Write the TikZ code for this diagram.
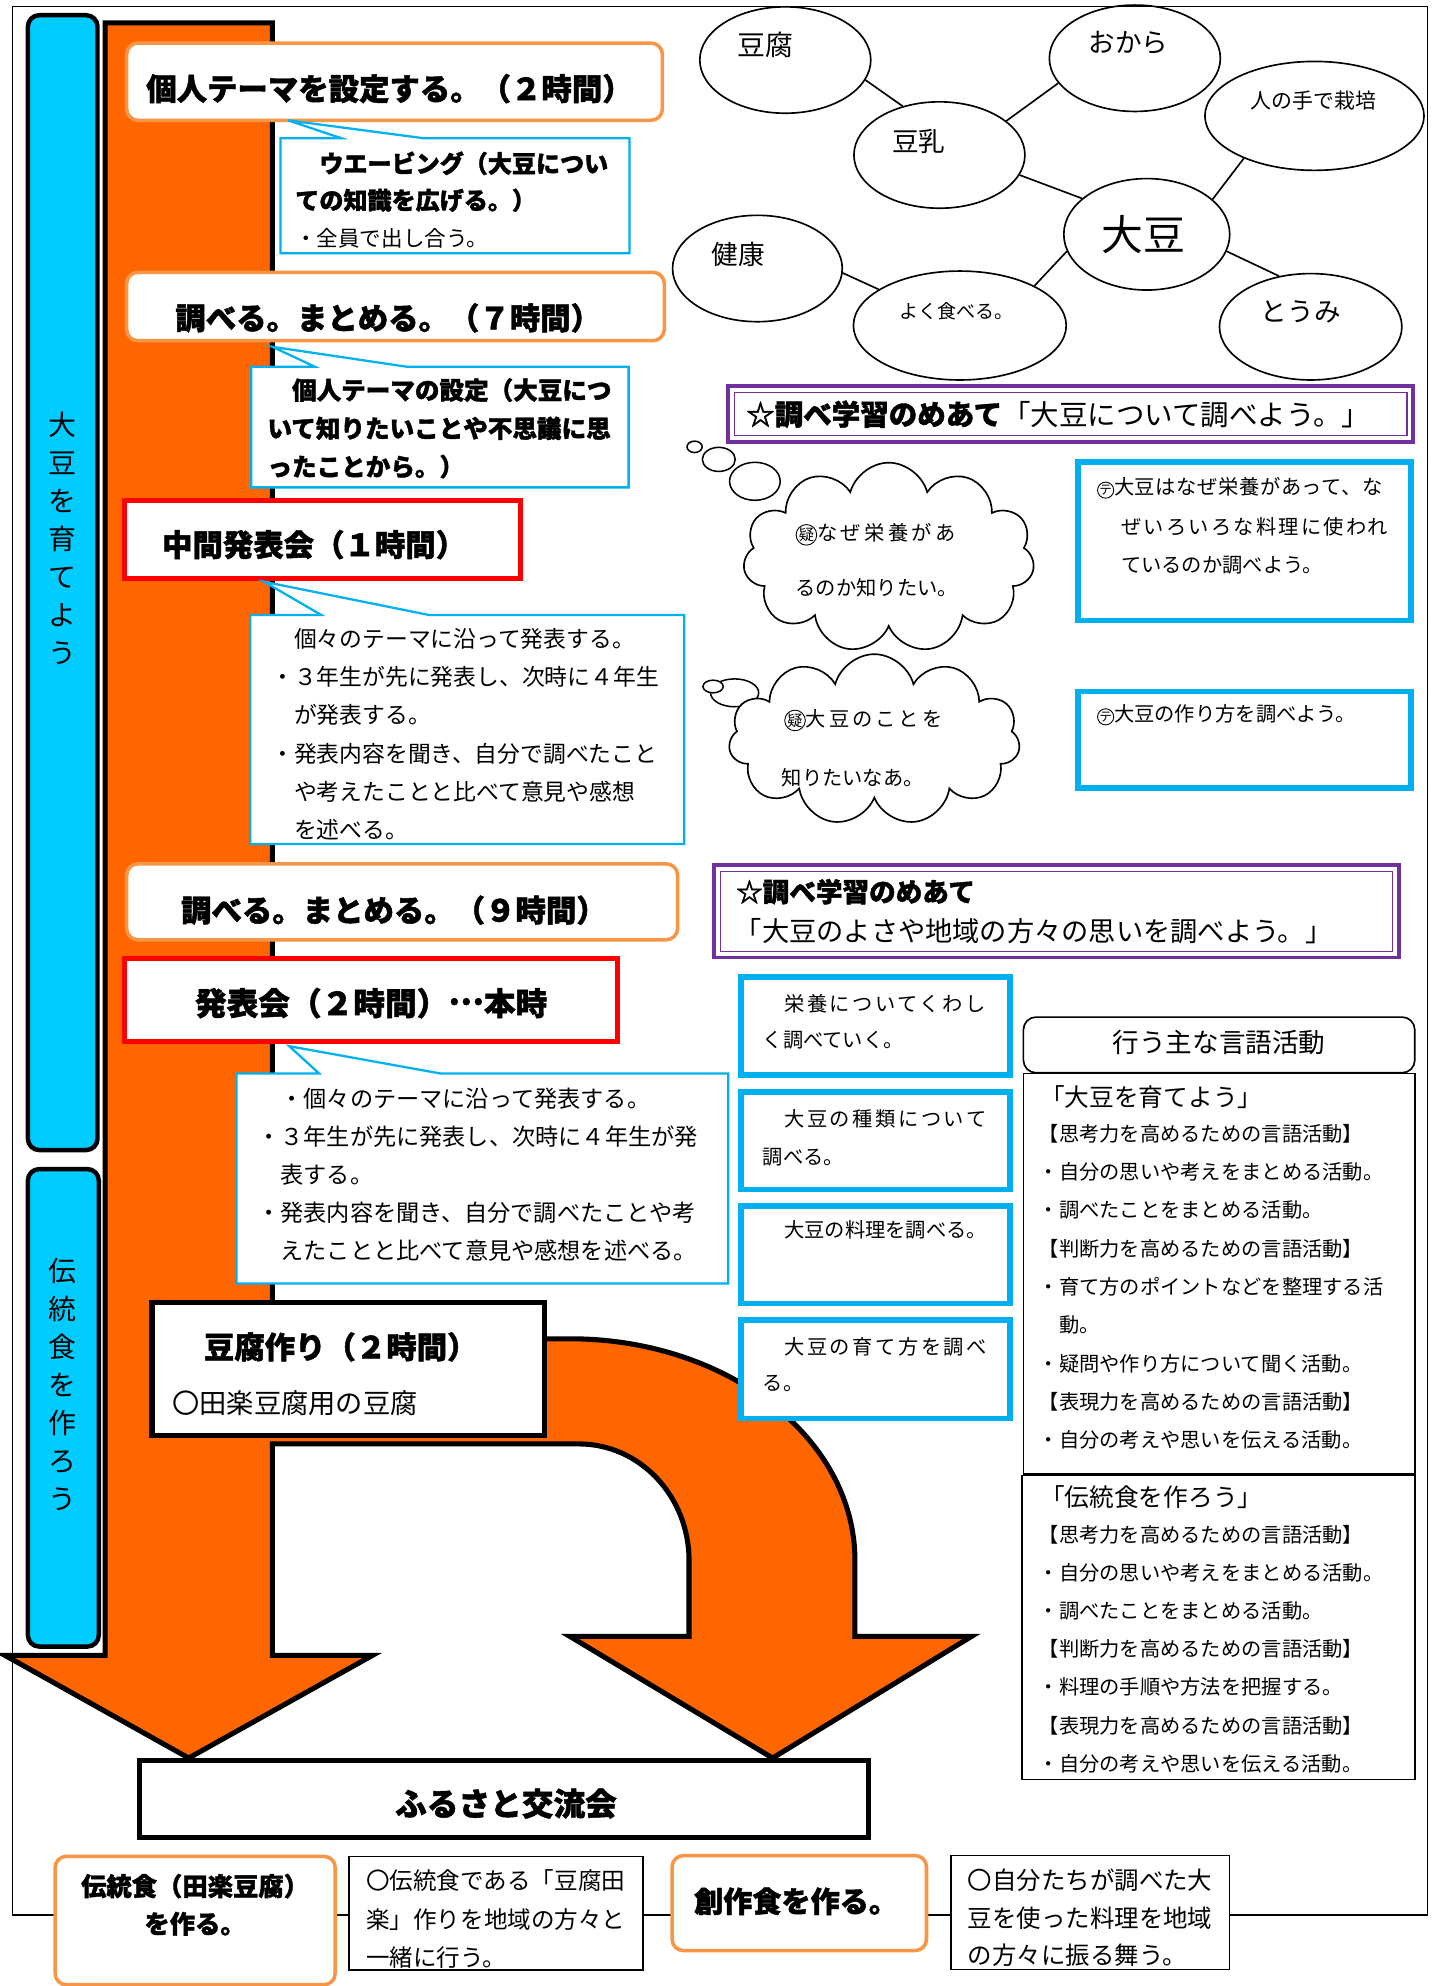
\documentclass[tikz,border=0pt]{standalone}
\usepackage{fontspec}
\setmainfont{Noto Sans CJK JP}
\usetikzlibrary{shapes.geometric,shapes.symbols}
\definecolor{arroworange}{HTML}{FF6600}
\definecolor{barcyan}{HTML}{00CCFF}
\definecolor{callblue}{HTML}{00B0F0}
\definecolor{boxorange}{HTML}{F79646}
\definecolor{redline}{HTML}{FF0000}
\definecolor{purpleline}{HTML}{7030A0}
\newcommand\fs[2]{\fontsize{#1}{#2}\selectfont}
\newcommand\heavy{\bfseries\addfontfeature{FakeBold=1.5}}
\newcommand\encl[2]{\tikz[baseline=(enc.base)]\node[draw,circle,line width=0.7pt,inner sep=0pt,font=\fs{#2}{#2}](enc){#1};}
\tikzset{
  frameline/.style={line width=1.2pt},
  bar/.style={draw=black,fill=barcyan,line width=3.5pt,rounded corners=9pt},
  bigarrow/.style={draw=black,fill=arroworange,line width=4pt,line join=miter},
  obox/.style={draw=boxorange,fill=white,line width=2.8pt,rounded corners=9pt},
  rbox/.style={draw=redline,fill=white,line width=4pt},
  callout/.style={draw=callblue,fill=white,line width=1.8pt,line join=miter},
  kbox/.style={draw=black,fill=white,line width=4pt},
  bbox/.style={draw=callblue,fill=white,line width=4.5pt},
  pboxo/.style={draw=purpleline,line width=3pt},
  pboxi/.style={draw=purpleline,line width=1pt},
  ell/.style={draw,ellipse,line width=1.3pt,inner sep=0pt},
  web/.style={line width=1.3pt},
  thought/.style={draw,cloud,cloud puffs=11,line width=1.3pt,fill=white,inner sep=0pt},
  bubble/.style={draw,ellipse,line width=1.2pt,fill=white,inner sep=0pt},
  tbox/.style={draw=black,fill=white,line width=1.3pt},
  head/.style={inner sep=0pt,font=\heavy\fs{24}{28}},
  txt/.style={inner sep=0pt,anchor=west,align=left},
  vtext/.style={inner sep=0pt,align=center,font=\fs{22}{30}}
}
\begin{document}
\begin{tikzpicture}[x=1pt,y=-1pt]
\useasboundingbox (0,0) rectangle (1134,1568);
\draw[frameline] (10,5) rectangle (1127,1512);

% side bars
\draw[bar] (22,12) rectangle (77,908);
\draw[bar] (22,923) rectangle (78,1300);
\node[vtext] (barA) at (49.5,425) {大\\豆\\を\\育\\て\\よ\\う};
\node[vtext] (barB) at (49.5,1093) {伝\\統\\食\\を\\作\\ろ\\う};

% big orange arrow with curved branch
\draw[bigarrow] (83,18) -- (215,18) -- (215,1057) -- (450,1057)
  arc[start angle=-90,end angle=0,x radius=225,y radius=175]
  -- (675,1292) -- (767,1292) -- (610,1388) -- (450,1292) -- (544,1292) -- (544,1232)
  arc[start angle=0,end angle=-90,x radius=87,y radius=92]
  -- (215,1140) -- (215,1307) -- (294,1307) -- (149,1388) -- (4,1307) -- (83,1307) -- cycle;

% step 1
\draw[obox] (100,34) rectangle (523,95);
\node[head] (h1) at (307.5,70) {個人テーマを設定する。（２時間）};
\draw[callout] (221.4,109.2) -- (269.7,109.2) -- (227.4,95) -- (334.9,109.2) -- (497,109.2) -- (497,200) -- (221.4,200) -- cycle;
\node[txt,font=\heavy\fs{19}{29}] (c1a) at (233,143.5) {　ウエービング（大豆につい\\ての知識を広げる。）};
\node[txt,font=\fs{17}{20}] (c1b) at (233,188) {・全員で出し合う。};

% step 2
\draw[obox] (100,215) rectangle (524.5,269);
\node[head] (h2) at (306.5,251) {調べる。まとめる。（７時間）};
\draw[callout] (198.4,289.5) -- (248.5,289.5) -- (215,273.8) -- (320.8,289.5) -- (496.3,289.5) -- (496.3,384.8) -- (198.4,384.8) -- cycle;
\node[txt,font=\heavy\fs{19.4}{30.2}] (c2) at (211,338.2) {　個人テーマの設定（大豆につ\\いて知りたいことや不思議に思\\ったことから。）};

% step 3
\draw[rbox] (98,395) rectangle (411,457);
\node[head] (h3) at (248,430) {中間発表会（１時間）};
\draw[callout] (197.6,485.6) -- (253.8,485.6) -- (208.5,459.3) -- (339,485.6) -- (540.3,485.6) -- (540.3,666.4) -- (197.6,666.4) -- cycle;
\node[txt,font=\fs{18}{30.3}] (c3) at (214,579.7) {　個々のテーマに沿って発表する。\\・３年生が先に発表し、次時に４年生\\　が発表する。\\・発表内容を聞き、自分で調べたこと\\　や考えたことと比べて意見や感想\\　を述べる。};

% step 4
\draw[obox] (100,682) rectangle (535,742);
\node[head] (h4) at (311,718.6) {調べる。まとめる。（９時間）};

% step 5
\draw[rbox] (98,757) rectangle (487.7,822.6);
\node[head,font=\heavy\fs{25}{28}] (h5) at (293,792) {発表会（２時間）\raisebox{0.33em}{…}本時};
\draw[callout] (186.7,847.6) -- (252,847.6) -- (228.4,826) -- (348,847.6) -- (575,847.6) -- (575,1013.4) -- (186.7,1013.4) -- cycle;
\node[txt,font=\fs{18.3}{29.95}] (c4) at (203,927.2) {　・個々のテーマに沿って発表する。\\・３年生が先に発表し、次時に４年生が発\\　表する。\\・発表内容を聞き、自分で調べたことや考\\　えたことと比べて意見や感想を述べる。};

% tofu making
\draw[kbox] (120,1028) rectangle (430,1133);
\node[head] (h6) at (269,1063.4) {豆腐作り（２時間）};
\node[txt,font=\fs{21.5}{24}] (h6b) at (136,1108) {〇田楽豆腐用の豆腐};

% furusato
\draw[kbox] (110,1390) rectangle (686,1451);
\node[head,font=\heavy\fs{25}{28}] (h7) at (399.5,1424) {ふるさと交流会};

% bottom row
\draw[obox] (43.5,1465.6) rectangle (264.7,1567);
\node[inner sep=0pt,align=center,font=\heavy\fs{20}{29.7}] (bt1) at (154,1503.9) {伝統食（田楽豆腐）\\を作る。};
\draw[tbox] (275.6,1465.6) rectangle (507.6,1555.6);
\node[txt,font=\fs{18.6}{30.25}] (bt2) at (289,1515.2) {〇伝統食である「豆腐田\\楽」作りを地域の方々と\\一緒に行う。};
\draw[obox] (530.6,1465) rectangle (731.5,1540);
\node[head,font=\heavy\fs{23}{26}] (bt3) at (628.5,1501) {創作食を作る。};
\draw[tbox] (751,1465) rectangle (970.6,1555);
\node[txt,font=\fs{19.3}{29.6}] (bt4) at (764,1514.2) {〇自分たちが調べた大\\豆を使った料理を地域\\の方々に振る舞う。};

% concept web
\node[ell,minimum width=135,minimum height=84] (tofu) at (620,47.4) {};
\node[ell,minimum width=135,minimum height=84] (okara) at (896,46) {};
\node[ell,minimum width=173,minimum height=86] (hito) at (1037.8,91.5) {};
\node[ell,minimum width=135,minimum height=84] (tonyu) at (741.7,122.4) {};
\node[ell,minimum width=131,minimum height=88] (daizu) at (905.4,185) {};
\node[ell,minimum width=134,minimum height=84] (kenko) at (598,212) {};
\node[ell,minimum width=168,minimum height=86] (yoku) at (757.8,257) {};
\node[ell,minimum width=144,minimum height=84] (toumi) at (1034.8,258) {};
\node[inner sep=0pt,font=\fs{22}{24}] (tofuT) at (604.6,35.5) {豆腐};
\node[inner sep=0pt,font=\fs{21}{24}] (okaraT) at (891,34) {おから};
\node[inner sep=0pt,font=\fs{16.5}{20}] (hitoT) at (1037,79) {人の手で栽培};
\node[inner sep=0pt,font=\fs{21}{24}] (tonyuT) at (725.5,112) {豆乳};
\node[inner sep=0pt,font=\fs{33}{36}] (daizuT) at (902.6,185.6) {大豆};
\node[inner sep=0pt,font=\fs{21}{24}] (kenkoT) at (582.7,201) {健康};
\node[inner sep=0pt,font=\fs{15}{18}] (yokuT) at (755,246) {よく食べる。};
\node[inner sep=0pt,font=\fs{21}{24}] (toumiT) at (1027,246) {とうみ};
\draw[web] (tofu.-14.6) -- (tonyu.127.5);
\draw[web] (okara.198.2) -- (tonyu.27.4);
\draw[web] (tonyu.-14.6) -- (daizu.151.4);
\draw[web] (hito.211) -- (daizu.28.3);
\draw[web] (daizu.-12.5) -- (toumi.122.8);
\draw[web] (daizu.192.9) -- (yoku.28.6);
\draw[web] (kenko.-3.3) -- (yoku.156.3);

% goal 1
\draw[pboxo] (575,305) rectangle (1115.8,349);
\draw[pboxi] (580,310) rectangle (1110.8,344);
\node[txt,font=\fs{22.5}{26}] (goal1) at (589,327) {{\heavy ☆調べ学習のめあて}「大豆について調べよう。」};

% thought clouds
\node[bubble,minimum width=12,minimum height=9] (b1) at (548.4,352.8) {};
\node[bubble,minimum width=26,minimum height=19] (b2) at (567.5,362.7) {};
\node[bubble,minimum width=40,minimum height=30] (b3) at (596,380) {};
\node[thought,minimum width=230,minimum height=150] (cl1) at (701.7,440.3) {};
\node[txt,font={\fs{16}{20}\addfontfeature{LetterSpace=17}}] (cl1a) at (628,422) {\encl{疑}{12}なぜ栄養があ};
\node[txt,font=\fs{16}{20}] (cl1b) at (628,464) {るのか知りたい。};

\node[bubble,minimum width=38,minimum height=22] (b5) at (580,547) {};
\node[bubble,minimum width=16,minimum height=10] (b4) at (563,542) {};
\node[thought,minimum width=230,minimum height=135] (cl2) at (690.3,584) {};
\node[txt,font={\fs{16}{20}\addfontfeature{LetterSpace=15}}] (cl2a) at (619,568.6) {\encl{疑}{12}大豆のことを};
\node[txt,font=\fs{16}{20}] (cl2b) at (617,613.7) {知りたいなあ。};

% theme boxes
\draw[bbox] (851,365) rectangle (1114,490);
\node[txt,font={\fs{16}{20}\addfontfeature{LetterSpace=3}}] (tA1) at (866,385.3) {\encl{テ}{10}大豆はなぜ栄養があって、な};
\node[txt,font={\fs{16}{20}\addfontfeature{LetterSpace=11}}] (tA2) at (885,416.3) {ぜいろいろな料理に使われ};
\node[txt,font=\fs{16}{20}] (tA3) at (885,446) {ているのか調べよう。};
\draw[bbox] (851,546) rectangle (1114,622.2);
\node[txt,font=\fs{16}{20}] (tB1) at (866,564.3) {\encl{テ}{10}大豆の作り方を調べよう。};

% goal 2
\draw[pboxo] (564,683) rectangle (1104.4,756);
\draw[pboxi] (569,688) rectangle (1099.4,751);
\node[txt,font=\heavy\fs{21}{24}] (goal2a) at (581,704) {☆調べ学習のめあて};
\node[txt,font=\fs{21.5}{24}] (goal2b) at (580,735) {「大豆のよさや地域の方々の思いを調べよう。」};

% research boxes
\draw[bbox] (585,771.3) rectangle (797.6,848.9);
\node[txt,font={\fs{16}{20}\addfontfeature{LetterSpace=12.5}}] (r1a) at (619,792.3) {栄養についてくわし};
\node[txt,font=\fs{16}{20}] (r1b) at (602,821.3) {く調べていく。};
\draw[bbox] (585,862) rectangle (797.6,939.2);
\node[txt,font={\fs{16}{20}\addfontfeature{LetterSpace=12.5}}] (r2a) at (619,883.1) {大豆の種類について};
\node[txt,font=\fs{16}{20}] (r2b) at (602,913.4) {調べる。};
\draw[bbox] (585,952.4) rectangle (797.6,1029.2);
\node[txt,font=\fs{16}{20}] (r3a) at (619,971.3) {大豆の料理を調べる。};
\draw[bbox] (585,1042.4) rectangle (797.6,1120);
\node[txt,font={\fs{16}{20}\addfontfeature{LetterSpace=12.5}}] (r4a) at (619,1063.4) {大豆の育て方を調べ};
\node[txt,font=\fs{16}{20}] (r4b) at (602,1092) {る。};

% language activities
\draw[tbox,rounded corners=10pt] (808,803) rectangle (1117,847);
\node[inner sep=0pt,font=\fs{21}{24}] (langH) at (962.5,823) {行う主な言語活動};
\draw[tbox] (808,847.6) rectangle (1117,1163.5);
\node[txt,font=\fs{19.5}{24}] (lang1h) at (821,866) {「大豆を育てよう」};
\node[txt,font=\fs{16}{30.25}] (lang1) at (820,1016) {【思考力を高めるための言語活動】\\・自分の思いや考えをまとめる活動。\\・調べたことをまとめる活動。\\【判断力を高めるための言語活動】\\・育て方のポイントなどを整理する活\\　動。\\・疑問や作り方について聞く活動。\\【表現力を高めるための言語活動】\\・自分の考えや思いを伝える活動。};
\draw[tbox] (807,1164.8) rectangle (1117,1405);
\node[txt,font=\fs{19.5}{24}] (lang2h) at (821,1182) {「伝統食を作ろう」};
\node[txt,font=\fs{16}{30.1}] (lang2) at (820,1302) {【思考力を高めるための言語活動】\\・自分の思いや考えをまとめる活動。\\・調べたことをまとめる活動。\\【判断力を高めるための言語活動】\\・料理の手順や方法を把握する。\\【表現力を高めるための言語活動】\\・自分の考えや思いを伝える活動。};
\end{tikzpicture}
\end{document}
